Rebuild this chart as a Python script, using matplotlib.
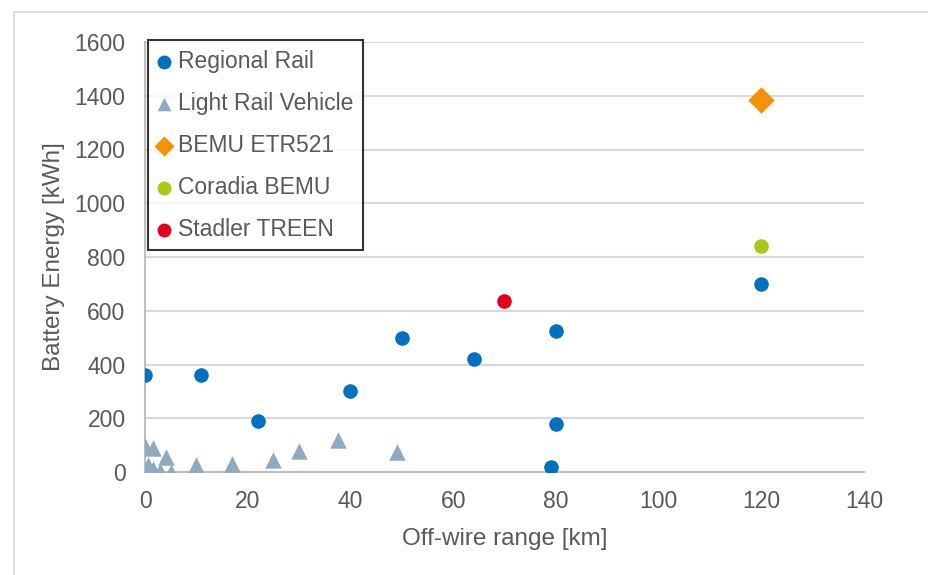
import matplotlib
matplotlib.use("Agg")
import matplotlib.pyplot as plt
from matplotlib.patches import Rectangle

plt.rcParams['font.family'] = ['Liberation Sans', 'DejaVu Sans']

# Regional rail vehicles
regional_x = [0, 11, 22, 40, 50, 64, 80, 80, 79, 120]
regional_y = [360, 360, 190, 300, 500, 420, 525, 180, 20, 700]

# Light rail vehicles
lrv_x = [0, 1.5, 4, 10, 17, 25, 30, 37.5, 49, 0, 0.5, 1.5, 3, 5, 0]
lrv_y = [95, 90, 55, 25, 30, 45, 80, 120, 75, 5, 25, 10, 3, 0, 0]

# Individual trains
etr521_x, etr521_y = [120], [1385]
coradia_x, coradia_y = [120], [840]
treen_x, treen_y = [70], [635]

x_ticks = [0, 20, 40, 60, 80, 100, 120, 140]
y_ticks = [0, 200, 400, 600, 800, 1000, 1200, 1400, 1600]

W, H = 929, 575
fig = plt.figure(figsize=(W / 100, H / 100), dpi=100)
fig.patch.set_facecolor('white')

# chart area border
fig.patches.append(Rectangle((14 / W, -0.1), 1.2, (H - 12) / H + 0.1,
                             transform=fig.transFigure, fill=False,
                             edgecolor='#d9d9d9', linewidth=1.2))

ax = fig.add_axes([145 / W, (H - 472) / H, (864 - 145) / W, (472 - 42) / H])
ax.set_xlim(0, 140)
ax.set_ylim(0, 1600)
ax.set_xticks(x_ticks)
ax.set_yticks(y_ticks)
ax.grid(axis='y', color='#d9d9d9', linewidth=1.5)
ax.set_axisbelow(True)
for s in ['top', 'right']:
    ax.spines[s].set_visible(False)
for s in ['left', 'bottom']:
    ax.spines[s].set_color('#bfbfbf')
    ax.spines[s].set_linewidth(1.5)
ax.tick_params(length=0, labelsize=16.5, colors='#595959')
ax.tick_params(axis='y', pad=14)
ax.tick_params(axis='x', pad=13)

ms = 110
ax.scatter(regional_x, regional_y, s=ms, marker='o', color='#0070c0',
           label='Regional Rail', zorder=3, linewidths=0)
ax.scatter(lrv_x, lrv_y, s=140, marker='^', color='#8eaac0',
           label='Light Rail Vehicle', zorder=3, linewidths=0)
ax.scatter(etr521_x, etr521_y, s=180, marker='D', color='#f39200',
           label='BEMU ETR521', zorder=3, linewidths=0)
ax.scatter(coradia_x, coradia_y, s=ms, marker='o', color='#a8c813',
           label='Coradia BEMU', zorder=3, linewidths=0)
ax.scatter(treen_x, treen_y, s=ms, marker='o', color='#e3001b',
           label='Stadler TREEN', zorder=3, linewidths=0)

ax.set_xlabel('Off-wire range [km]', fontsize=17.5, color='#595959', labelpad=11)
ax.set_ylabel('Battery Energy [kWh]', fontsize=17.5, color='#595959', labelpad=7)

leg = ax.legend(loc='upper left', bbox_to_anchor=(148 / W, 1 - 40 / H),
                bbox_transform=fig.transFigure, borderaxespad=0,
                fontsize=16.5, frameon=True, fancybox=False,
                handlelength=0.6, handletextpad=0.3, labelspacing=0.83,
                borderpad=0.42)
for h, size in zip(leg.legend_handles, [100, 95, 105, 100, 100]):
    h.set_sizes([size])
leg.get_frame().set_edgecolor('black')
leg.get_frame().set_linewidth(1.5)
for t in leg.get_texts():
    t.set_color('#595959')

fig.savefig('out.png', dpi=100, facecolor='white')
